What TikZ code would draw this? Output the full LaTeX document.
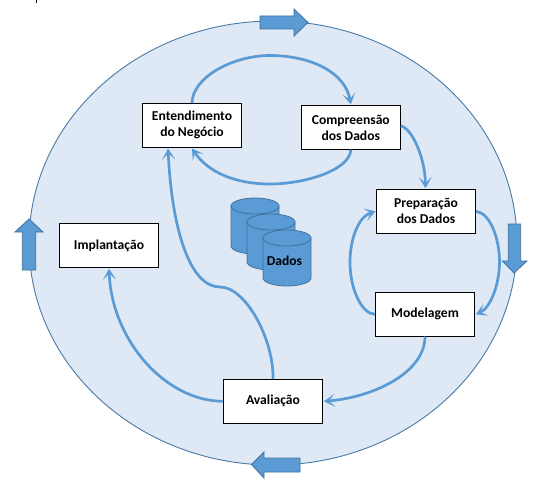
\documentclass[tikz,border=0pt]{standalone}
\usepackage{fontspec}
\setmainfont{Carlito}
\usetikzlibrary{arrows.meta,calc}
\definecolor{discfill}{HTML}{DEE9F5}
\definecolor{discline}{HTML}{4A7BA6}
\definecolor{flow}{HTML}{5B9BD5}
\definecolor{blockline}{HTML}{41719C}
\tikzset{
  phasebox/.style={draw=black,fill=white,line width=0.9pt,minimum width=99pt,minimum height=43.5pt,inner sep=0pt,align=center,font=\fontsize{13.6}{16}\selectfont\bfseries,text=black},
  flowline/.style={draw=flow,line width=2.7pt,-{Stealth[length=11pt,width=13pt,inset=6pt,line width=0pt]}},
  flowplain/.style={draw=flow,line width=2.7pt},
  blockarrow/.style={draw=blockline,fill=flow,line width=0.8pt,line join=miter},
  drum/.style={draw=blockline,fill=flow,line width=0.8pt}
}
\newcommand{\drumshape}[2]{%
  \path[drum] (#1,#2+8) -- (#1,#2+48) .. controls (#1,#2+52.4) and (#1+10.75,#2+56) .. (#1+24,#2+56) .. controls (#1+37.25,#2+56) and (#1+48,#2+52.4) .. (#1+48,#2+48) -- (#1+48,#2+8) -- cycle;
  \path[drum] (#1+24,#2+8) ellipse[x radius=24,y radius=8];
}
\begin{document}
\begin{tikzpicture}[x=1pt,y=-1pt]
\useasboundingbox (0,0) rectangle (554,495);
\fill[white] (0,0) rectangle (554,495);
\draw[black,line width=1pt] (36.8,0) -- (36.8,3);
\path[draw=discline,fill=discfill,line width=0.9pt] (273,243) ellipse[x radius=244,y radius=222];
% block arrows
\path[blockarrow] (260,16) -- (294,16) -- (294,9) -- (308,22.5) -- (294,36) -- (294,29) -- (260,29) -- cycle;
\path[blockarrow] (508.3,224) -- (520.7,224) -- (520.7,261) -- (527,261) -- (514,273) -- (502.5,261) -- (508.3,261) -- cycle;
\path[blockarrow] (300,458) -- (264,458) -- (264,452) -- (251.5,464.5) -- (264,478) -- (264,472) -- (300,472) -- cycle;
\path[blockarrow] (22.3,270) -- (22.3,232) -- (15,232) -- (29,219) -- (43,232) -- (35.7,232) -- (35.7,270) -- cycle;
% drums
\drumshape{231}{198}
\drumshape{247}{214}
\drumshape{263}{230}
\node[font=\fontsize{13.6}{16}\selectfont\bfseries,text=black,inner sep=0pt] (dados) at (284.5,261) {Dados};
% phases
\node[phasebox] (ent) at (192,125.3) {Entendimento\\do Negócio};
\node[phasebox] (comp) at (350.8,127.5) {Compreensão\\dos Dados};
\node[phasebox] (prep) at (426,211.3) {Preparação\\dos Dados};
\node[phasebox] (mod) at (425,314.3) {Modelagem};
\node[phasebox] (aval) at (273,401.3) {Avaliação};
\node[phasebox] (impl) at (109,245.5) {Implantação};
% flows
\coordinate (upper) at (270,55.5);
\coordinate (lower) at (270,184);
\coordinate (dip) at (220,287);
\coordinate (rightbulge) at (499.5,262);
\coordinate (leftbulge) at (350,262);
\coordinate (evalin) at ($(ent.south)+(-24,0)$);
\path[flowplain] (ent.north) .. controls (192,78) and (232,55.5) .. (upper);
\path[flowline] (upper) .. controls (310,55.5) and (345,72) .. ($(comp.north)+(0,-1)$);
\path[flowplain] (comp.south) .. controls (350,170) and (305,184) .. (lower);
\path[flowline] (lower) .. controls (235,184) and (208,172) .. ($(ent.south)+(0,1)$);
\path[flowline] ($(comp.east)+(0,-1.5)$) .. controls (412,128) and (425,158) .. ($(prep.north)+(-0.5,-1)$);
\path[flowplain] ($(prep.east)+(0,0)$) .. controls (490,213) and (499.5,238) .. (rightbulge);
\path[flowline] (rightbulge) .. controls (499.5,285) and (490,308) .. ($(mod.east)+(1,0)$);
\path[flowplain] (mod.west) .. controls (362,314) and (350,290) .. (leftbulge);
\path[flowline] (leftbulge) .. controls (350,240) and (358,217) .. ($(prep.west)+(-0.5,0)$);
\path[flowline] (mod.south) .. controls (425,372) and (375,397) .. ($(aval.east)+(1,0)$);
\path[flowline] (aval.west) .. controls (165,401) and (112,340) .. ($(impl.south)+(0,1)$);
\path[flowplain] (aval.north) .. controls (274,340) and (246,287) .. (dip);
\path[flowline] (dip) .. controls (190,287) and (172,230) .. ($(evalin)+(0,1)$);
\end{tikzpicture}
\end{document}
